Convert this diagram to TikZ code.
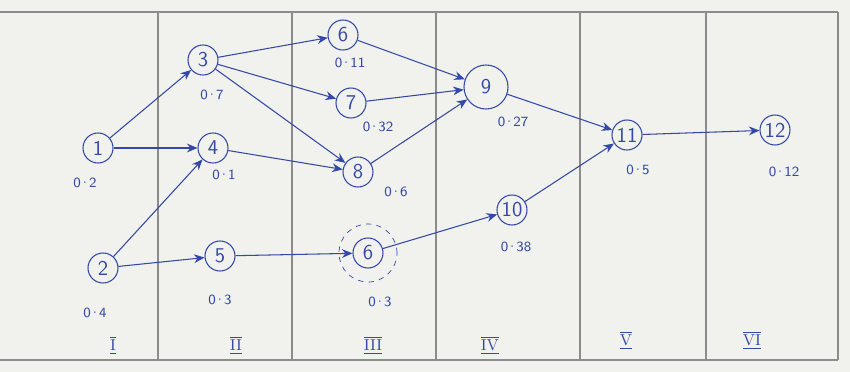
\documentclass[tikz,border=0pt]{standalone}
\usetikzlibrary{arrows.meta}
\definecolor{ink}{RGB}{52,72,165}
\definecolor{paper}{RGB}{241,241,238}
\newcommand\pdot{\kern-1pt·\kern-1pt}
\begin{document}
\begin{tikzpicture}[
  x=0.02cm,y=-0.02cm,
  font=\sffamily,
  event/.style={draw=ink, circle, semithick, minimum size=30*0.02cm, inner sep=0pt, text=ink, font=\sffamily\large},
  prob/.style={text=ink, font=\sffamily\footnotesize, inner sep=1pt},
  stage/.style={text=ink, font=\small},
  grid/.style={draw=black!45, line width=1.1pt},
  flow/.style={-{Stealth[length=6pt,width=5pt]}, draw=ink, line width=0.6pt}
]

% Canvas: 850x372
\fill[paper] (0,0) rectangle (850,372);
\path[use as bounding box] (0,0) rectangle (850,372);

% Stage columns
\draw[grid] (0,12) -- (838,12);
\draw[grid] (0,360) -- (838,360);
\draw[grid] (838,12) -- (838,360);
\foreach \xx in {158,292,436,580,706}
  \draw[grid] (\xx,12) -- (\xx,360);

% Stage numbers
\node[stage] (s1) at (113,345) {$\overline{\underline{\mathrm{I}}}$};
\node[stage] (s2) at (236,345) {$\overline{\underline{\mathrm{II}}}$};
\node[stage] (s3) at (373,345) {$\overline{\underline{\mathrm{III}}}$};
\node[stage] (s4) at (490,345) {$\overline{\underline{\mathrm{IV}}}$};
\node[stage] (s5) at (626,340) {$\overline{\underline{\mathrm{V}}}$};
\node[stage] (s6) at (752,340) {$\overline{\underline{\mathrm{VI}}}$};

% Events
\node[event] (n1) at (98,148) {1};
\node[event] (n2) at (103,268) {2};
\node[event] (n3) at (203,60) {3};
\node[event] (n4) at (213,148) {4};
\node[event] (n5) at (220,256) {5};
\node[event] (n6) at (343,35) {6};
\node[event] (n7) at (351,103) {7};
\node[event] (n8) at (358,172) {8};
\node[event] (n6b) at (368,253) {6};
\node[event, minimum size=44*0.02cm] (n9) at (486,87) {9};
\node[event] (n10) at (512,210) {10};
\node[event] (n11) at (627,135) {11};
\node[event] (n12) at (775,130) {12};
\draw[ink, dashed, thin] (n6b.center) circle (29*0.02cm);

% Probabilities
\node[prob] (p1) at (85,183) {0\pdot2};
\node[prob] (p2) at (95,313) {0\pdot4};
\node[prob] (p3) at (212,95) {0\pdot7};
\node[prob] (p4) at (224,175) {0\pdot1};
\node[prob] (p5) at (220,300) {0\pdot3};
\node[prob] (p6) at (350,63) {0\pdot11};
\node[prob] (p7) at (378,127) {0\pdot32};
\node[prob] (p8) at (396,192) {0\pdot6};
\node[prob] (p6b) at (380,302) {0\pdot3};
\node[prob] (p9) at (513,122) {0\pdot27};
\node[prob] (p10) at (516,247) {0\pdot38};
\node[prob] (p11) at (638,170) {0\pdot5};
\node[prob] (p12) at (784,172) {0\pdot12};

% Activities
\draw[flow] (n1) -- (n3);
\draw[flow] (n1) -- (n4);
\draw[flow] (n2) -- (n4);
\draw[flow] (n2) -- (n5);
\draw[flow] (n3) -- (n6);
\draw[flow] (n3) -- (n7);
\draw[flow] (n3) -- (n8);
\draw[flow] (n4) -- (n8);
\draw[flow] (n5) -- (n6b);
\draw[flow] (n6) -- (n9);
\draw[flow] (n7) -- (n9);
\draw[flow] (n8) -- (n9);
\draw[flow] (n6b) -- (n10);
\draw[flow] (n9) -- (n11);
\draw[flow] (n10) -- (n11);
\draw[flow] (n11) -- (n12);

\end{tikzpicture}
\end{document}
